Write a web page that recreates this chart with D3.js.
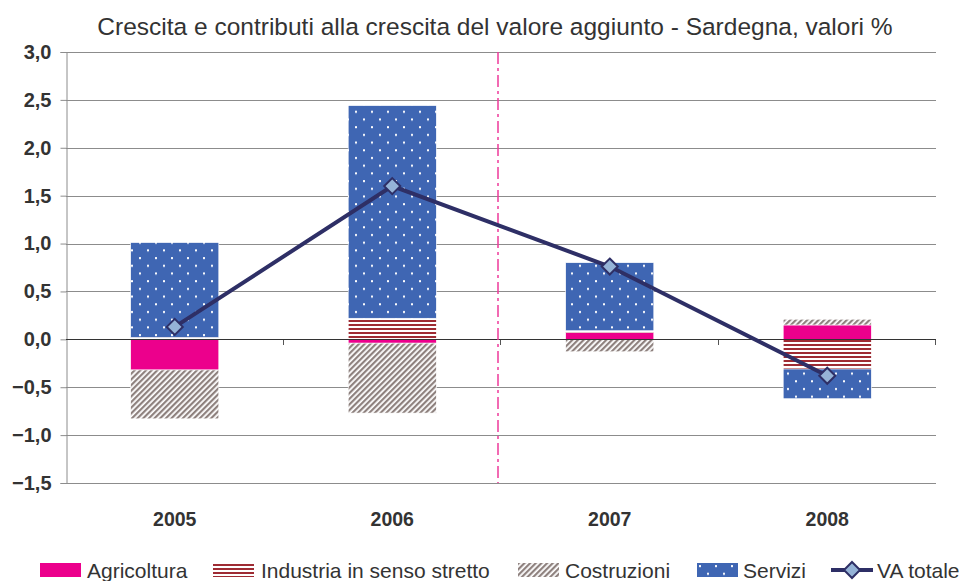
<!DOCTYPE html>
<html><head><meta charset="utf-8">
<script src="https://cdn.jsdelivr.net/npm/d3@7"></script>
<style>body{margin:0;background:#fff}svg{display:block;font-family:"Liberation Sans",Arial,sans-serif}</style>
</head><body>
<svg id="c" width="968" height="581"></svg>
<script>
const years = ['2005','2006','2007','2008'];
const agricoltura = [-0.32, -0.04, 0.07, 0.15];
const industria   = [0.02, 0.22, 0.02, -0.31];
const costruzioni = [-0.51, -0.73, -0.13, 0.06];
const servizi     = [0.99, 2.22, 0.71, -0.31];
const vaTotale    = [0.13, 1.60, 0.76, -0.38];
const yTicks = [-1.5,-1.0,-0.5,0,0.5,1.0,1.5,2.0,2.5,3.0];
const seriesNames = ['Agricoltura','Industria in senso stretto','Costruzioni','Servizi'];
const lineName = 'VA totale';
const title = 'Crescita e contributi alla crescita del valore aggiunto - Sardegna, valori %';

const svg = d3.select('#c');
const L=66, R=936, T=52, B=483;
const x = d3.scaleBand().domain(years).range([L,R]).paddingInner(0.595).paddingOuter(0.2975);
const y = d3.scaleLinear().domain([-1.5,3.0]).range([B,T]);

// patterns
const defs = svg.append('defs');
const pInd = defs.append('pattern').attr('id','pInd').attr('patternUnits','userSpaceOnUse').attr('width',8).attr('height',4);
pInd.append('rect').attr('width',8).attr('height',4).attr('fill','#fff');
pInd.append('rect').attr('y',0).attr('width',8).attr('height',2).attr('fill','#9E2B33');
const pCos = defs.append('pattern').attr('id','pCos').attr('patternUnits','userSpaceOnUse').attr('width',4).attr('height',4).attr('patternTransform','rotate(45)');
pCos.append('rect').attr('width',4).attr('height',4).attr('fill','#fff');
pCos.append('rect').attr('width',2.2).attr('height',4).attr('fill','#8E817E');
const pSer = defs.append('pattern').attr('id','pSer').attr('patternUnits','userSpaceOnUse').attr('width',16).attr('height',15.4);
pSer.append('rect').attr('width',16).attr('height',15.4).attr('fill','#3F66B3');
pSer.append('rect').attr('x',3).attr('y',3).attr('width',2).attr('height',2).attr('fill','#fff');
pSer.append('rect').attr('x',11).attr('y',10.7).attr('width',2).attr('height',2).attr('fill','#fff');
const fills = ['#EC008C','url(#pInd)','url(#pCos)','url(#pSer)'];

// gridlines
svg.append('g').selectAll('line').data(yTicks).join('line')
  .attr('x1',L).attr('x2',R).attr('y1',d=>Math.round(y(d))+0.5).attr('y2',d=>Math.round(y(d))+0.5)
  .attr('stroke',d=>d===0?'#333':'#8c8c8c').attr('stroke-width',1);

// y axis
const yAxis = svg.append('g').attr('transform',`translate(${L+0.5},0)`)
  .call(d3.axisLeft(y).tickValues(yTicks).tickSize(6).tickPadding(9).tickFormat(d=>d3.format('.1f')(d).replace('.',',')));
yAxis.select('.domain').attr('stroke','#8c8c8c');
yAxis.selectAll('.tick line').attr('stroke','#8c8c8c');
yAxis.selectAll('.tick text').attr('font-size',20).attr('font-weight','bold').attr('fill','#333').attr('font-family','"Liberation Sans",Arial,sans-serif');

// stacked bars
const rows = years.map((yr,i)=>({year:yr,a:agricoltura[i],b:industria[i],c:costruzioni[i],d:servizi[i]}));
const stack = d3.stack().keys(['a','b','c','d']).offset(d3.stackOffsetDiverging);
const stacked = stack(rows);
svg.append('g').selectAll('g').data(stacked).join('g').attr('fill',(d,i)=>fills[i])
  .selectAll('rect').data(d=>d).join('rect')
  .attr('x',d=>x(d.data.year)).attr('width',x.bandwidth())
  .attr('y',d=>y(Math.max(d[0],d[1]))).attr('height',d=>Math.abs(y(d[0])-y(d[1])))
  .attr('stroke','#fff').attr('stroke-width',0.6);

// x axis ticks on zero line
const bounds = d3.range(1,years.length+1).map(k=>L+k*(R-L)/years.length);
svg.append('g').selectAll('line').data(bounds).join('line')
  .attr('x1',d=>Math.round(d)-0.5).attr('x2',d=>Math.round(d)-0.5)
  .attr('y1',Math.round(y(0))).attr('y2',Math.round(y(0))+6).attr('stroke','#555');
svg.append('line').attr('x1',L).attr('x2',R).attr('y1',Math.round(y(0))+0.5).attr('y2',Math.round(y(0))+0.5).attr('stroke','#333');

// x labels
svg.append('g').selectAll('text').data(years).join('text')
  .attr('x',d=>x(d)+x.bandwidth()/2).attr('y',526).attr('text-anchor','middle')
  .attr('font-size',19.5).attr('font-weight','bold').attr('fill','#333').text(d=>d);

// dash-dot separator
svg.append('line').attr('x1',498).attr('x2',498).attr('y1',T).attr('y2',B)
  .attr('stroke','#EE3A9A').attr('stroke-width',1.5).attr('stroke-dasharray','12,4,3,4');

// VA totale line
const cx = d=>x(d)+x.bandwidth()/2;
svg.append('path').datum(years.map((yr,i)=>[cx(yr),y(vaTotale[i])]))
  .attr('d',d3.line()).attr('fill','none').attr('stroke','#2E2F66').attr('stroke-width',4);
svg.append('g').selectAll('path').data(years.map((yr,i)=>[cx(yr),y(vaTotale[i])])).join('path')
  .attr('transform',d=>`translate(${d[0]},${d[1]})`)
  .attr('d','M0,-8L8,0L0,8L-8,0Z').attr('fill','#95B3D7').attr('stroke','#2E2F66').attr('stroke-width',2);

// title
svg.append('text').attr('x',495).attr('y',35).attr('text-anchor','middle').attr('font-size',24.5).attr('fill','#333').text(title);

// legend
const lg = svg.append('g');
const swX = [40,213,518,697];
const txX = [87,261,565,743];
seriesNames.forEach((n,i)=>{
  lg.append('rect').attr('x',swX[i]).attr('y',563).attr('width',41).attr('height',14).attr('fill',fills[i]);
  lg.append('text').attr('x',txX[i]).attr('y',578).attr('font-size',21).attr('fill','#333').text(n);
});
lg.append('line').attr('x1',831).attr('x2',873).attr('y1',570).attr('y2',570).attr('stroke','#2E2F66').attr('stroke-width',4);
lg.append('path').attr('transform','translate(852,570)').attr('d','M0,-8L8,0L0,8L-8,0Z').attr('fill','#95B3D7').attr('stroke','#2E2F66').attr('stroke-width',2);
lg.append('text').attr('x',877).attr('y',578).attr('font-size',21).attr('fill','#333').text(lineName);
</script>
</body></html>
